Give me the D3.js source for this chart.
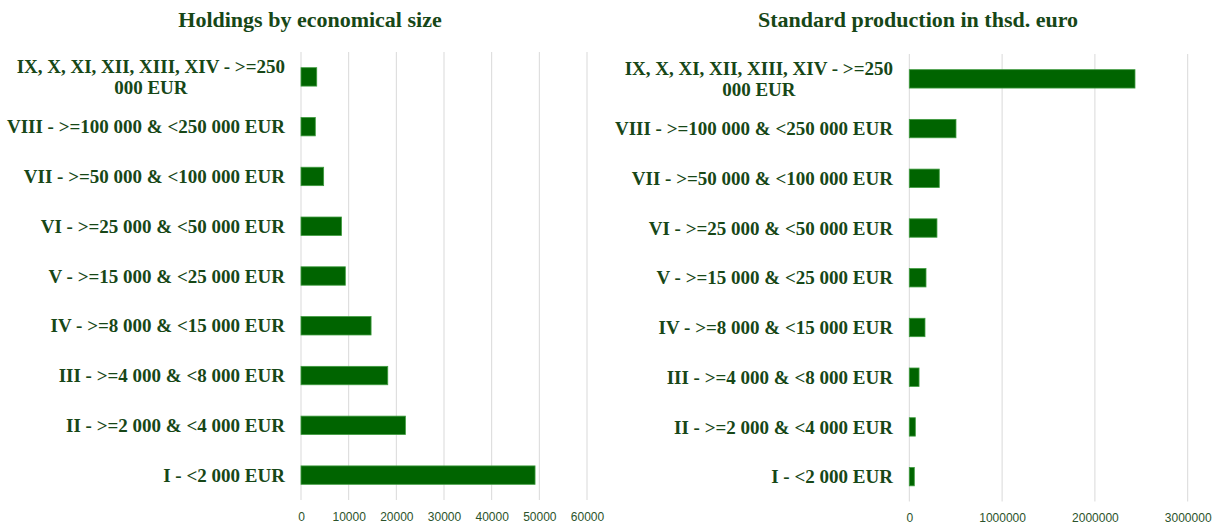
<!DOCTYPE html>
<html>
<head>
<meta charset="utf-8">
<script src="https://cdn.jsdelivr.net/npm/d3@7"></script>
<style>
  body { margin: 0; background: #fff; }
</style>
</head>
<body>
<div id="viz"></div>
<script>
var categories = ["IX, X, XI, XII, XIII, XIV - >=250 000 EUR",
                  "VIII - >=100 000 & <250 000 EUR",
                  "VII - >=50 000 & <100 000 EUR",
                  "VI - >=25 000 & <50 000 EUR",
                  "V - >=15 000 & <25 000 EUR",
                  "IV - >=8 000 & <15 000 EUR",
                  "III - >=4 000 & <8 000 EUR",
                  "II - >=2 000 & <4 000 EUR",
                  "I - <2 000 EUR"];

var holdings = [3300, 3000, 4750, 8500, 9300, 14700, 18200, 21900, 49100];
var production = [2432000, 503000, 323000, 298000, 180000, 169000, 105000, 65000, 54000];

var holdingsTicks = [0, 10000, 20000, 30000, 40000, 50000, 60000];
var productionTicks = [0, 1000000, 2000000, 3000000];

var svg_dx = 1227, svg_dy = 524;
var textColor = "#174717", barColor = "#006400";

var svg = d3.select("#viz")
            .append("svg")
            .attr("width", svg_dx)
            .attr("height", svg_dy);

// one panel = title, wrapped category labels, grid, bars
function drawPanel(opt) {
    var x = d3.scaleLinear().domain([0, opt.max]).range([opt.x0, opt.x1]);
    var y = d3.scaleBand().domain(categories).range([opt.y0, opt.y1]).paddingInner(0.63).paddingOuter(0.315);

    var g = svg.append("g");

    g.append("text")
     .attr("x", opt.titleX)
     .attr("y", 27)
     .attr("text-anchor", "middle")
     .style("font-family", "'Liberation Serif', 'Times New Roman', serif")
     .style("font-weight", "bold")
     .style("font-size", "22px")
     .style("fill", textColor)
     .text(opt.title);

    // gridlines
    g.append("g")
     .selectAll("line")
     .data(opt.ticks)
     .enter()
     .append("line")
     .attr("x1", d => x(d)).attr("x2", d => x(d))
     .attr("y1", opt.y0).attr("y2", opt.y1)
     .style("stroke", "#d9d9d9")
     .style("stroke-width", 1);

    var axis = g.append("g")
                .attr("transform", "translate(0," + (opt.y1 + 2) + ")")
                .call(d3.axisBottom(x).tickValues(opt.ticks).tickFormat(d3.format("d")).tickSize(0).tickPadding(10));
    axis.select(".domain").remove();
    axis.selectAll("text")
        .style("font-family", "'Liberation Sans', Arial, sans-serif")
        .style("font-size", "12px")
        .style("fill", "#2b532b");

    g.append("g")
     .selectAll("rect")
     .data(opt.values)
     .enter()
     .append("rect")
     .attr("x", x(0))
     .attr("y", (d, i) => y(categories[i]))
     .attr("width", d => x(d) - x(0))
     .attr("height", y.bandwidth())
     .style("fill", barColor)
     .style("stroke", "#3f9c3f")
     .style("stroke-width", 0.8);

    // category labels, wrapped and centred, block aligned right
    categories.forEach(function (c) {
        var t = g.append("text")
                 .attr("text-anchor", "middle")
                 .style("font-family", "'Liberation Serif', 'Times New Roman', serif")
                 .style("font-weight", "bold")
                 .style("font-size", "19px")
                 .style("fill", textColor);
        var words = c.split(" "), lines = [], line = [];
        var probe = t.append("tspan");
        words.forEach(function (w) {
            line.push(w);
            probe.text(line.join(" "));
            if (probe.node().getComputedTextLength() > 292 && line.length > 1) {
                line.pop();
                lines.push(line.join(" "));
                line = [w];
            }
        });
        lines.push(line.join(" "));
        probe.remove();
        var lh = 20.5, cy = y(c) + y.bandwidth() / 2;
        lines.forEach(function (l, k) {
            t.append("tspan")
             .attr("x", 0)
             .attr("y", cy + (k - (lines.length - 1) / 2) * lh)
             .attr("dy", "0.35em")
             .text(l);
        });
        var bb = t.node().getBBox();
        t.attr("transform", "translate(" + (opt.labelRight - bb.width / 2) + ",0)");
    });
}

drawPanel({title: "Holdings by economical size", titleX: 310, values: holdings, max: 60000,
           ticks: holdingsTicks, x0: 301, x1: 587, y0: 52, y1: 500, labelRight: 285});
drawPanel({title: "Standard production in thsd. euro", titleX: 918, values: production, max: 3000000,
           ticks: productionTicks, x0: 909.3, x1: 1187.7, y0: 54, y1: 501.5, labelRight: 893});
</script>
</body>
</html>
